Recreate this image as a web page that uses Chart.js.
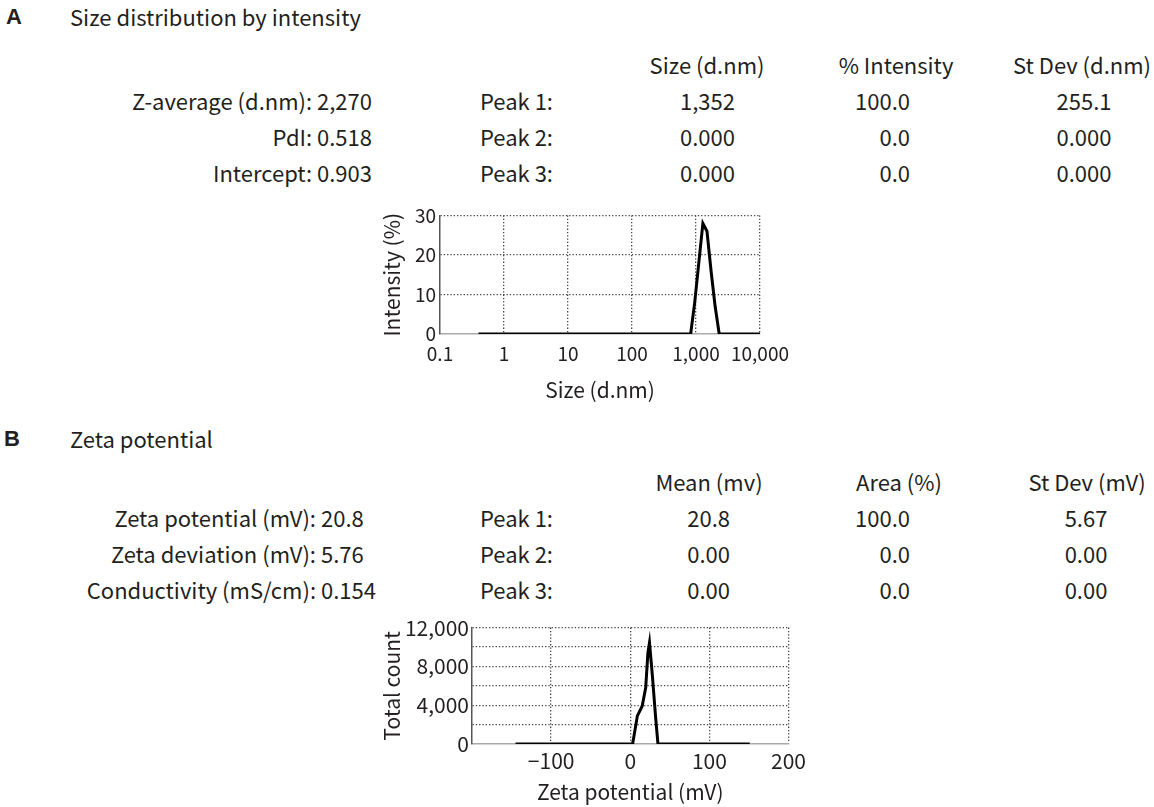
<!DOCTYPE html>
<html>
<head>
<meta charset="utf-8">
<script src="https://cdn.jsdelivr.net/npm/chart.js@4.4.0/dist/chart.umd.min.js"></script>
<style>
  body {
    margin: 0;
    width: 1154px;
    height: 807px;
    position: relative;
    overflow: hidden;
    background: #fff;
    color: #231f20;
    font-family: "Noto Sans CJK KR", "Noto Sans", sans-serif;
  }
  .t {
    position: absolute;
    white-space: nowrap;
    font-size: 22px;
    line-height: 30px;
    height: 30px;
  }
  .panel {
    font-family: "Liberation Sans", Arial, sans-serif;
    font-weight: bold;
    font-size: 22px;
  }
  .r { text-align: right; }
  .c { text-align: center; }
  .box { position: absolute; }
</style>
</head>
<body>

<!-- panel A text -->
<div class="t panel" style="left:6px; top:2px;">A</div>
<div class="t" style="left:70px; top:1px;">Size distribution by intensity</div>

<div class="t c" style="left:647px; width:120px; top:49px;">Size (d.nm)</div>
<div class="t c" style="left:836px; width:120px; top:49px;">% Intensity</div>
<div class="t c" style="left:1012px; width:140px; top:49px;">St Dev (d.nm)</div>

<div class="t r" style="left:0; width:372px; top:85px;">Z-average (d.nm): 2,270</div>
<div class="t r" style="left:0; width:372px; top:121px;">PdI: 0.518</div>
<div class="t r" style="left:0; width:372px; top:157px;">Intercept: 0.903</div>

<div class="t" style="left:480px; top:85px;">Peak 1:</div>
<div class="t" style="left:480px; top:121px;">Peak 2:</div>
<div class="t" style="left:480px; top:157px;">Peak 3:</div>

<div class="t r" style="left:635px; width:100px; top:85px;">1,352</div>
<div class="t r" style="left:635px; width:100px; top:121px;">0.000</div>
<div class="t r" style="left:635px; width:100px; top:157px;">0.000</div>

<div class="t r" style="left:810px; width:100px; top:85px;">100.0</div>
<div class="t r" style="left:810px; width:100px; top:121px;">0.0</div>
<div class="t r" style="left:810px; width:100px; top:157px;">0.0</div>

<div class="t c" style="left:1034px; width:100px; top:85px;">255.1</div>
<div class="t c" style="left:1034px; width:100px; top:121px;">0.000</div>
<div class="t c" style="left:1034px; width:100px; top:157px;">0.000</div>

<div class="box" style="left:370px; top:200px; width:430px; height:210px;">
  <canvas id="size-chart" width="430" height="210"></canvas>
</div>

<!-- panel B text -->
<div class="t panel" style="left:4px; top:424px;">B</div>
<div class="t" style="left:70px; top:423px;">Zeta potential</div>

<div class="t c" style="left:649px; width:120px; top:466px;">Mean (mv)</div>
<div class="t c" style="left:839px; width:120px; top:466px;">Area (%)</div>
<div class="t c" style="left:1017px; width:140px; top:466px;">St Dev (mV)</div>

<div class="t r" style="left:0; width:316px; top:502px;">Zeta potential (mV):</div>
<div class="t r" style="left:0; width:316px; top:538px;">Zeta deviation (mV):</div>
<div class="t r" style="left:0; width:316px; top:574px;">Conductivity (mS/cm):</div>
<div class="t" style="left:321px; top:502px;">20.8</div>
<div class="t" style="left:321px; top:538px;">5.76</div>
<div class="t" style="left:321px; top:574px;">0.154</div>

<div class="t" style="left:480px; top:502px;">Peak 1:</div>
<div class="t" style="left:480px; top:538px;">Peak 2:</div>
<div class="t" style="left:480px; top:574px;">Peak 3:</div>

<div class="t r" style="left:630px; width:100px; top:502px;">20.8</div>
<div class="t r" style="left:630px; width:100px; top:538px;">0.00</div>
<div class="t r" style="left:630px; width:100px; top:574px;">0.00</div>

<div class="t r" style="left:810px; width:100px; top:502px;">100.0</div>
<div class="t r" style="left:810px; width:100px; top:538px;">0.0</div>
<div class="t r" style="left:810px; width:100px; top:574px;">0.0</div>

<div class="t c" style="left:1036px; width:100px; top:502px;">5.67</div>
<div class="t c" style="left:1036px; width:100px; top:538px;">0.00</div>
<div class="t c" style="left:1036px; width:100px; top:574px;">0.00</div>

<div class="box" style="left:370px; top:612px; width:440px; height:197px;">
  <canvas id="zeta-chart" width="440" height="197"></canvas>
</div>

<script>
// size distribution (A)
const sizeNm = [0.4, 825, 955, 1106, 1281, 1484, 1718, 1990, 2305, 10000];
const intensityPct = [0, 0, 8, 18, 28, 26, 16, 7, 0, 0];
const sizeTicks = [0.1, 1, 10, 100, 1000, 10000];
const intensityTicks = [0, 10, 20, 30];

// zeta potential (B)
const zetaMv = [-145, 3, 9, 15, 19.5, 22.3, 24.3, 28, 32, 35, 151];
const totalCount = [0, 0, 2900, 3900, 5800, 9400, 10450, 7000, 2800, 0, 0];
const zetaTicks = [-100, 0, 100, 200];
const countTicks = [0, 4000, 8000, 12000];

const textColor = '#231f20';
const fontName = '"Noto Sans CJK KR", "Noto Sans", sans-serif';

Chart.defaults.color = textColor;
Chart.defaults.font.family = fontName;

function fmt(v) {
    return Number(v).toLocaleString('en-US').replace('-', '\u2212');
}

// dotted grid, skip the line that sits on the axis itself
function gridColor(c) {
    return c.index === 0 ? 'rgba(0,0,0,0)' : '#444';
}

function points(xs, ys) {
    return xs.map((x, i) => ({ x: x, y: ys[i] }));
}

new Chart(document.getElementById('size-chart'), {
    type: 'line',
    data: {
        datasets: [{
            data: points(sizeNm, intensityPct),
            borderColor: '#000',
            borderWidth: 3,
            pointRadius: 0,
            tension: 0,
            fill: false
        }]
    },
    options: {
        responsive: false,
        animation: false,
        devicePixelRatio: 1,
        layout: { padding: { top: 13, right: 40, left: 0, bottom: 0 } },
        plugins: { legend: { display: false }, tooltip: { enabled: false } },
        scales: {
            x: {
                type: 'logarithmic',
                min: 0.1,
                max: 10000,
                afterBuildTicks: s => { s.ticks = sizeTicks.map(v => ({ value: v })); },
                afterFit: s => { s.height = 76; },
                ticks: {
                    autoSkip: false,
                    maxRotation: 0,
                    padding: 8,
                    font: { size: 19 },
                    callback: v => fmt(v)
                },
                grid: { color: gridColor, lineWidth: 1.3, drawTicks: false },
                border: { color: '#aaa', width: 1.5, dash: [1.3, 2] },
                title: {
                    display: true,
                    text: 'Size (d.nm)',
                    font: { size: 21 },
                    padding: { top: 0, bottom: 7 }
                }
            },
            y: {
                min: 0,
                max: 30,
                afterBuildTicks: s => { s.ticks = intensityTicks.map(v => ({ value: v })); },
                afterFit: s => { s.width = 70; },
                ticks: { padding: 4, font: { size: 19 } },
                grid: { color: gridColor, lineWidth: 1.3, drawTicks: false },
                border: { color: '#555', width: 1.5, dash: [1.3, 2] },
                title: {
                    display: true,
                    text: 'Intensity (%)',
                    font: { size: 21 },
                    padding: { top: 9, bottom: 0 }
                }
            }
        }
    }
});

new Chart(document.getElementById('zeta-chart'), {
    type: 'line',
    data: {
        datasets: [{
            data: points(zetaMv, totalCount),
            borderColor: '#000',
            borderWidth: 3,
            pointRadius: 0,
            tension: 0,
            fill: false
        }]
    },
    options: {
        responsive: false,
        animation: false,
        devicePixelRatio: 1,
        layout: { padding: { top: 10, right: 12, left: 0, bottom: 0 } },
        plugins: { legend: { display: false }, tooltip: { enabled: false } },
        scales: {
            x: {
                type: 'linear',
                min: -200,
                max: 200,
                afterFit: s => { s.height = 65; },
                ticks: {
                    stepSize: 100,
                    autoSkip: false,
                    maxRotation: 0,
                    padding: 4,
                    font: { size: 21 },
                    callback: v => zetaTicks.includes(v) ? fmt(v) : ''
                },
                grid: { color: gridColor, lineWidth: 1.3, drawTicks: false },
                border: { color: '#aaa', width: 1.5, dash: [1.3, 2] },
                title: {
                    display: true,
                    text: 'Zeta potential (mV)',
                    font: { size: 21 },
                    padding: { top: 0, bottom: 4 }
                }
            },
            y: {
                min: 0,
                max: 12000,
                afterFit: s => { s.width = 102; },
                ticks: {
                    stepSize: 2000,
                    autoSkip: false,
                    padding: 3,
                    font: { size: 21 },
                    callback: v => countTicks.includes(v) ? fmt(v) : ''
                },
                grid: { color: gridColor, lineWidth: 1.3, drawTicks: false },
                border: { color: '#555', width: 1.5, dash: [1.3, 2] },
                title: {
                    display: true,
                    text: 'Total count',
                    font: { size: 21 },
                    padding: { top: 9, bottom: 0 }
                }
            }
        }
    }
});
</script>
</body>
</html>
